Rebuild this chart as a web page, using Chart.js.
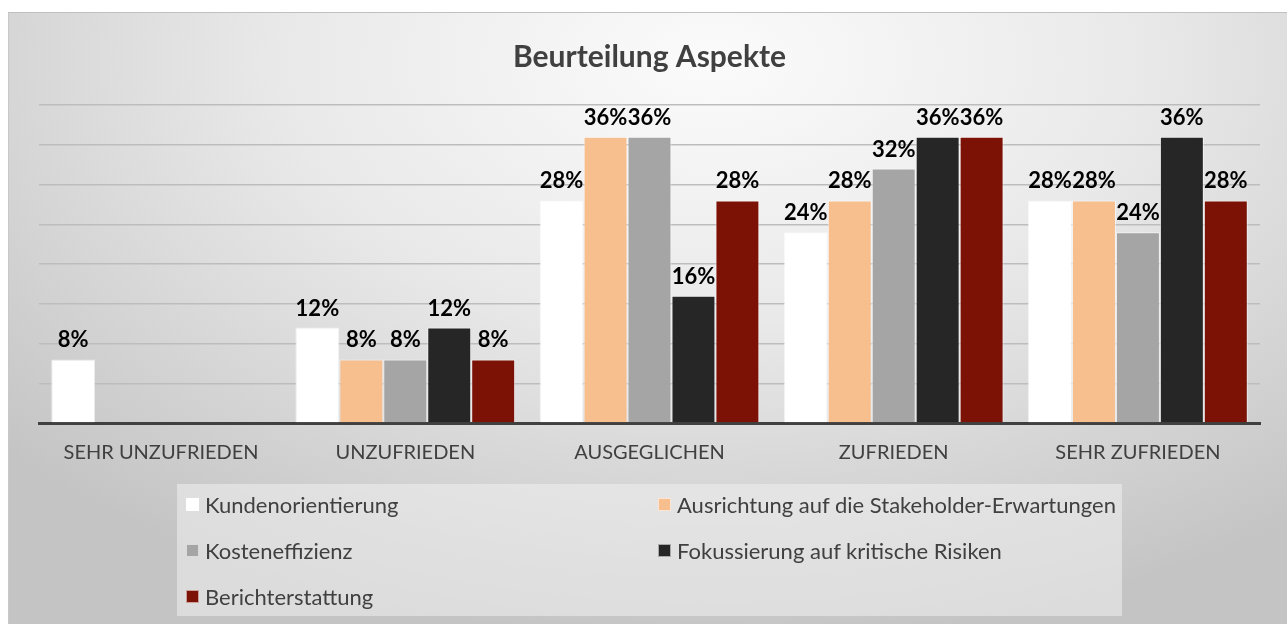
<!DOCTYPE html>
<html>
<head>
<meta charset="utf-8">
<script src="https://cdn.jsdelivr.net/npm/chart.js@4.4.1/dist/chart.umd.min.js"></script>
<style>
  html, body { margin: 0; padding: 0; background: #fff; }
  #box {
    position: absolute; left: 8px; top: 12px; width: 1279px; height: 612px;
    background: radial-gradient(ellipse 75% 95% at 55% 8%, #fbfbfb 0%, #e9e9e9 45%, #c4c4c4 100%);
    border-top: 1px solid #c0c0c0; border-left: 1px solid #c8c8c8;
    box-sizing: border-box;
  }
  #myChart { position: absolute; left: 0; top: 0; }
  #legend {
    position: absolute; left: 168px; top: 471px; width: 945px; height: 132px;
    box-sizing: border-box;
    background: rgba(240,240,240,0.55);
    display: grid; grid-template-columns: 472px 473px; grid-auto-rows: 46px;
    font-family: Lato, sans-serif; font-size: 22px; color: #404040;
  }
  .item { display: flex; align-items: center; padding-left: 9px; position: relative; top: -3px; }
  .sw { width: 13px; height: 13px; margin-right: 6px; box-sizing: border-box; border: 1px solid rgba(255,255,255,0.6); }
</style>
</head>
<body>
<div id="box">
  <canvas id="myChart" width="1279" height="612"></canvas>
  <div id="legend"></div>
</div>
<script>
const categories = ['SEHR UNZUFRIEDEN', 'UNZUFRIEDEN', 'AUSGEGLICHEN', 'ZUFRIEDEN', 'SEHR ZUFRIEDEN'];
const seriesNames = ['Kundenorientierung', 'Ausrichtung auf die Stakeholder-Erwartungen', 'Kosteneffizienz', 'Fokussierung auf kritische Risiken', 'Berichterstattung'];
const kundenorientierung = [8, 12, 28, 24, 28];
const stakeholder = [null, 8, 36, 28, 28];
const kosteneffizienz = [null, 8, 36, 32, 24];
const risiken = [null, 12, 16, 36, 36];
const berichterstattung = [null, 8, 28, 36, 28];
const colors = ['#ffffff', '#f8bf8e', '#a5a5a5', '#262626', '#7c1206'];
const yMax = 40;
const yStep = 5;

const allValues = [kundenorientierung, stakeholder, kosteneffizienz, risiken, berichterstattung];

// draws the % labels above each bar
const barLabels = {
  id: 'barLabels',
  afterDatasetsDraw(chart) {
    const c = chart.ctx;
    c.save();
    c.font = 'bold 22px Lato, sans-serif';
    c.fillStyle = '#000';
    c.textAlign = 'center';
    c.textBaseline = 'bottom';
    chart.data.datasets.forEach((ds, i) => {
      chart.getDatasetMeta(i).data.forEach((bar, j) => {
        const v = ds.data[j];
        if (v == null) return;
        c.fillText(v + '%', bar.x, bar.y - 8);
      });
    });
    c.restore();
  }
};

const ctx = document.getElementById('myChart').getContext('2d');
const myChart = new Chart(ctx, {
  type: 'bar',
  data: {
    labels: categories,
    datasets: allValues.map((vals, i) => ({
      label: seriesNames[i],
      data: vals,
      backgroundColor: colors[i],
      borderColor: 'rgba(255,255,255,0.6)',
      borderWidth: 1,
      categoryPercentage: 0.9,
      barPercentage: 1.0
    }))
  },
  options: {
    responsive: false,
    animation: false,
    layout: { padding: { left: 30, right: 28, top: 0, bottom: 142 } },
    plugins: {
      legend: { display: false },
      tooltip: { enabled: false },
      title: {
        display: true,
        text: 'Beurteilung Aspekte',
        color: '#404040',
        font: { family: 'Lato, sans-serif', size: 30, weight: 'bold' },
        padding: { top: 26, bottom: 30 }
      }
    },
    scales: {
      x: {
        grid: { display: false, drawTicks: false },
        border: { color: '#404040', width: 3 },
        ticks: { color: '#404040', font: { family: 'Lato, sans-serif', size: 20 }, padding: 18 }
      },
      y: {
        min: 0,
        max: yMax,
        ticks: { display: false, stepSize: yStep },
        grid: { color: '#bdbdbd', lineWidth: 1.5, drawTicks: false },
        border: { display: false }
      }
    }
  },
  plugins: [barLabels]
});

// legend in two columns
const legendEl = document.getElementById('legend');
seriesNames.forEach((name, i) => {
  const item = document.createElement('div');
  item.className = 'item';
  item.innerHTML = '<span class="sw" style="background:' + colors[i] + '"></span><span>' + name + '</span>';
  legendEl.appendChild(item);
});
</script>
</body>
</html>
